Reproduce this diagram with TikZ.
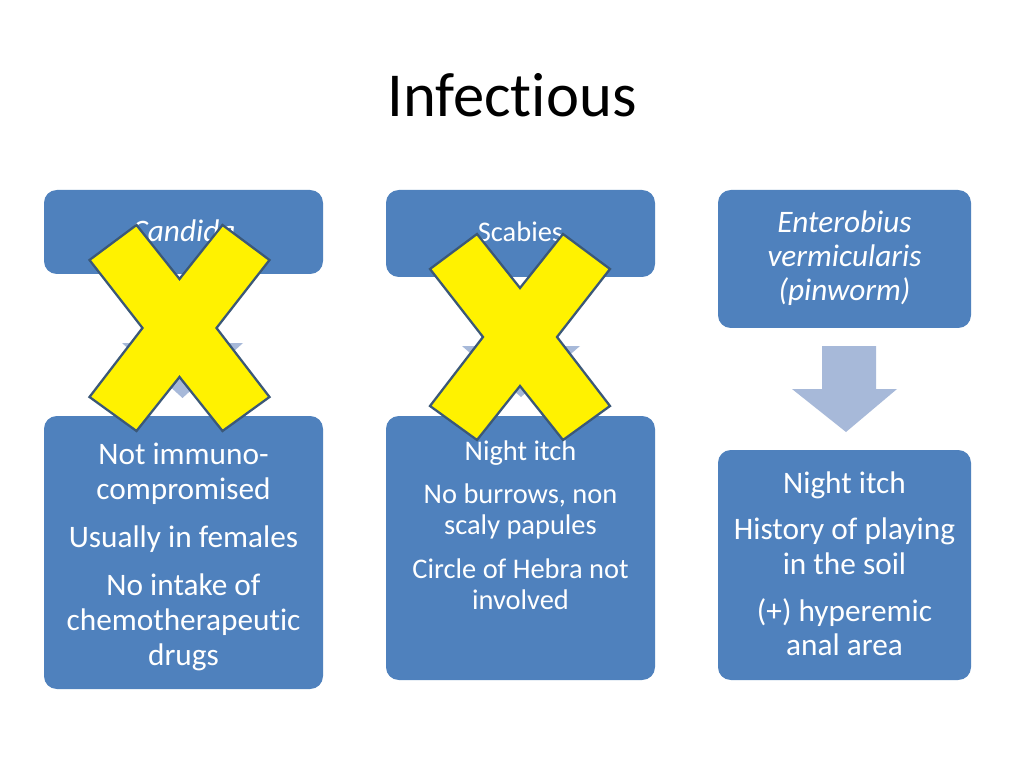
\documentclass[tikz,border=0pt]{standalone}
\usepackage{fontspec}
\setmainfont{Carlito}[Ligatures=NoCommon]
\definecolor{boxblue}{HTML}{4F81BD}
\definecolor{arrowblue}{HTML}{A7B9D9}
\definecolor{xline}{HTML}{3B5878}
\begin{document}
\begin{tikzpicture}[x=0.703125pt,y=-0.703125pt,
  bluebox/.style={fill=boxblue,draw=none,rounded corners=9pt},
  boxtext/.style={text=white,align=center,inner sep=0pt,anchor=north},
  blockarrow/.style={fill=arrowblue,draw=none},
  xmark/.style={fill=yellow,draw=xline,line width=1.6pt,line join=miter}]
\path[use as bounding box,fill=white] (0,0) rectangle (1024,768);
\node[font=\fontsize{44}{50}\selectfont,anchor=base] (title) at (512,117) {Infectious};
% column 1
\fill[bluebox] (44,190) rectangle (323,274);
\node[boxtext,font=\fontsize{22}{26}\itshape\selectfont,anchor=base] (t1) at (183.5,241.5) {Candida};
\fill[blockarrow] (152,290) -- (213,290) -- (213,343) -- (243,343) -- (182.5,398) -- (122,343) -- (152,343) -- cycle;
\fill[bluebox] (44,416) rectangle (323,689);
\node[boxtext,font=\fontsize{22}{24.6}\selectfont] (b1) at (183.5,443)
  {Not immuno-\\compromised\\[9pt]Usually in females\\[9pt]No intake of\\chemotherapeutic\\drugs};
% column 2
\fill[bluebox] (386,190) rectangle (655,277);
\node[boxtext,font=\fontsize{20}{24}\selectfont,anchor=base] (t2) at (520.5,242) {Scabies};
\fill[blockarrow] (491,292) -- (551,292) -- (551,346) -- (580,346) -- (521,397) -- (462,346) -- (491,346) -- cycle;
\fill[bluebox] (386,416) rectangle (655,680);
\node[boxtext,font=\fontsize{20}{21.8}\selectfont] (b2) at (520.5,440)
  {Night itch\\[9pt]No burrows, non\\scaly papules\\[9pt]Circle of Hebra not\\involved};
% column 3
\fill[bluebox] (718,190) rectangle (971,328);
\node[boxtext,font=\fontsize{22}{24.2}\itshape\selectfont] (t3) at (844.5,210)
  {Enterobius\\vermicularis\\(pinworm)};
\fill[blockarrow] (822,346) -- (876,346) -- (876,389) -- (897,389) -- (846,432) -- (792,389) -- (822,389) -- cycle;
\fill[bluebox] (718,450) rectangle (971,680);
\node[boxtext,font=\fontsize{22}{24}\selectfont] (b3) at (844.5,471)
  {Night itch\\[9pt]History of playing\\in the soil\\[9pt](+) hyperemic\\anal area};
% X marks
\foreach \cx/\cy in {179.5/328, 520/337}{
  \draw[xmark,shift={(\cx,\cy)}] (-43,-103) -- (0,-49) -- (43,-103) -- (90,-68) -- (37,0) -- (90,69) -- (43,103) -- (0,49) -- (-43,103) -- (-90,69) -- (-37,0) -- (-90,-68) -- cycle;
}
\end{tikzpicture}
\end{document}
